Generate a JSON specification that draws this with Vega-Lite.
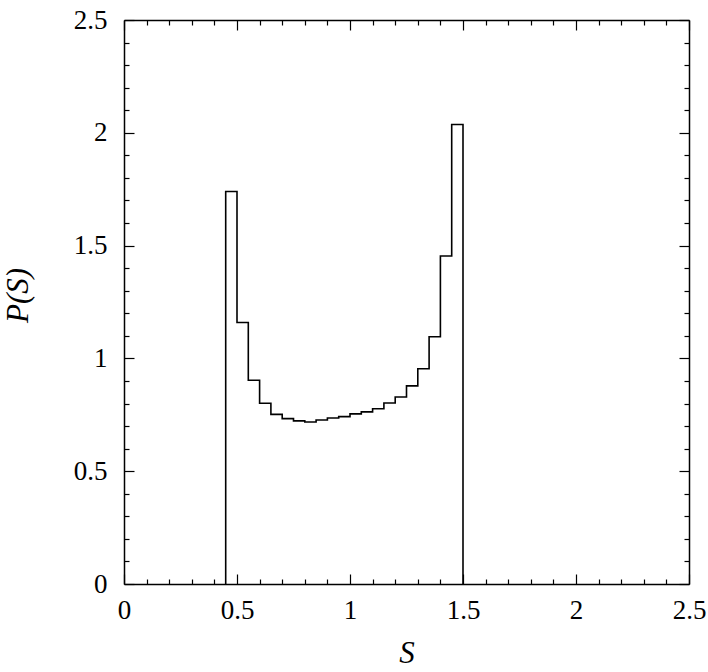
{
  "$schema": "https://vega.github.io/schema/vega-lite/v6.json",
  "width": 565,
  "height": 564,
  "autosize": "none",
  "padding": {"left": 124, "top": 20, "right": 19, "bottom": 88},
  "background": "white",
  "config": {
    "view": {"stroke": null},
    "axis": {
      "labelFont": "Liberation Serif, Times New Roman, serif",
      "labelFontSize": 27,
      "labelColor": "black",
      "titleFont": "Liberation Serif, Times New Roman, serif",
      "titleFontSize": 31,
      "titleFontStyle": "italic",
      "titleFontWeight": "normal",
      "titleColor": "black",
      "tickColor": "black",
      "domainColor": "black",
      "domainWidth": 1.5,
      "tickWidth": 1.2,
      "grid": false
    }
  },
  "data": {
    "values": [
      {"S": 0.45, "P": 0, "k": 0},
      {"S": 0.45, "P": 1.740, "k": 1},
      {"S": 0.50, "P": 1.159, "k": 2},
      {"S": 0.55, "P": 0.903, "k": 3},
      {"S": 0.60, "P": 0.801, "k": 4},
      {"S": 0.65, "P": 0.752, "k": 5},
      {"S": 0.70, "P": 0.733, "k": 6},
      {"S": 0.75, "P": 0.723, "k": 7},
      {"S": 0.80, "P": 0.718, "k": 8},
      {"S": 0.85, "P": 0.727, "k": 9},
      {"S": 0.90, "P": 0.736, "k": 10},
      {"S": 0.95, "P": 0.742, "k": 11},
      {"S": 1.00, "P": 0.754, "k": 12},
      {"S": 1.05, "P": 0.763, "k": 13},
      {"S": 1.10, "P": 0.777, "k": 14},
      {"S": 1.15, "P": 0.802, "k": 15},
      {"S": 1.20, "P": 0.829, "k": 16},
      {"S": 1.25, "P": 0.878, "k": 17},
      {"S": 1.30, "P": 0.954, "k": 18},
      {"S": 1.35, "P": 1.096, "k": 19},
      {"S": 1.40, "P": 1.454, "k": 20},
      {"S": 1.45, "P": 2.037, "k": 21},
      {"S": 1.50, "P": 0, "k": 22}
    ]
  },
  "resolve": {"axis": {"x": "independent", "y": "independent"}},
  "layer": [
    {
      "mark": {"type": "line", "interpolate": "step-after", "color": "black", "strokeWidth": 1.6, "clip": true},
      "encoding": {
        "x": {"field": "S", "type": "quantitative", "scale": {"domain": [0, 2.5], "nice": false, "zero": false},
          "axis": {"orient": "bottom", "title": "S", "values": [0, 0.5, 1, 1.5, 2, 2.5], "labelExpr": "datum.value", "tickSize": -10, "labelPadding": 23, "titlePadding": 15, "labelFlush": false}},
        "y": {"field": "P", "type": "quantitative", "scale": {"domain": [0, 2.5], "nice": false, "zero": false},
          "axis": {"orient": "left", "title": "P(S)", "values": [0, 0.5, 1, 1.5, 2, 2.5], "labelExpr": "datum.value", "tickSize": -10, "labelPadding": 27, "titlePadding": 39, "titleY": 275, "labelFlush": false}},
        "order": {"field": "k", "type": "quantitative"}
      }
    },
    {
      "mark": {"type": "line", "opacity": 0},
      "encoding": {
        "x": {"field": "S", "type": "quantitative", "axis": {"orient": "top", "title": null, "labels": false, "values": [0, 0.5, 1, 1.5, 2, 2.5], "tickSize": -10}},
        "y": {"field": "P", "type": "quantitative", "axis": {"orient": "right", "title": null, "labels": false, "values": [0, 0.5, 1, 1.5, 2, 2.5], "tickSize": -10}},
        "order": {"field": "k", "type": "quantitative"}
      }
    },
    {
      "mark": {"type": "line", "opacity": 0},
      "encoding": {
        "x": {"field": "S", "type": "quantitative", "axis": {"orient": "bottom", "title": null, "labels": false, "domain": false, "tickSize": -5, "values": [0.1, 0.2, 0.3, 0.4, 0.6, 0.7, 0.8, 0.9, 1.1, 1.2, 1.3, 1.4, 1.6, 1.7, 1.8, 1.9, 2.1, 2.2, 2.3, 2.4]}},
        "y": {"field": "P", "type": "quantitative", "axis": {"orient": "left", "title": null, "labels": false, "domain": false, "tickSize": -5, "values": [0.1, 0.2, 0.3, 0.4, 0.6, 0.7, 0.8, 0.9, 1.1, 1.2, 1.3, 1.4, 1.6, 1.7, 1.8, 1.9, 2.1, 2.2, 2.3, 2.4]}},
        "order": {"field": "k", "type": "quantitative"}
      }
    },
    {
      "mark": {"type": "line", "opacity": 0},
      "encoding": {
        "x": {"field": "S", "type": "quantitative", "axis": {"orient": "top", "title": null, "labels": false, "domain": false, "tickSize": -5, "values": [0.1, 0.2, 0.3, 0.4, 0.6, 0.7, 0.8, 0.9, 1.1, 1.2, 1.3, 1.4, 1.6, 1.7, 1.8, 1.9, 2.1, 2.2, 2.3, 2.4]}},
        "y": {"field": "P", "type": "quantitative", "axis": {"orient": "right", "title": null, "labels": false, "domain": false, "tickSize": -5, "values": [0.1, 0.2, 0.3, 0.4, 0.6, 0.7, 0.8, 0.9, 1.1, 1.2, 1.3, 1.4, 1.6, 1.7, 1.8, 1.9, 2.1, 2.2, 2.3, 2.4]}},
        "order": {"field": "k", "type": "quantitative"}
      }
    }
  ]
}
